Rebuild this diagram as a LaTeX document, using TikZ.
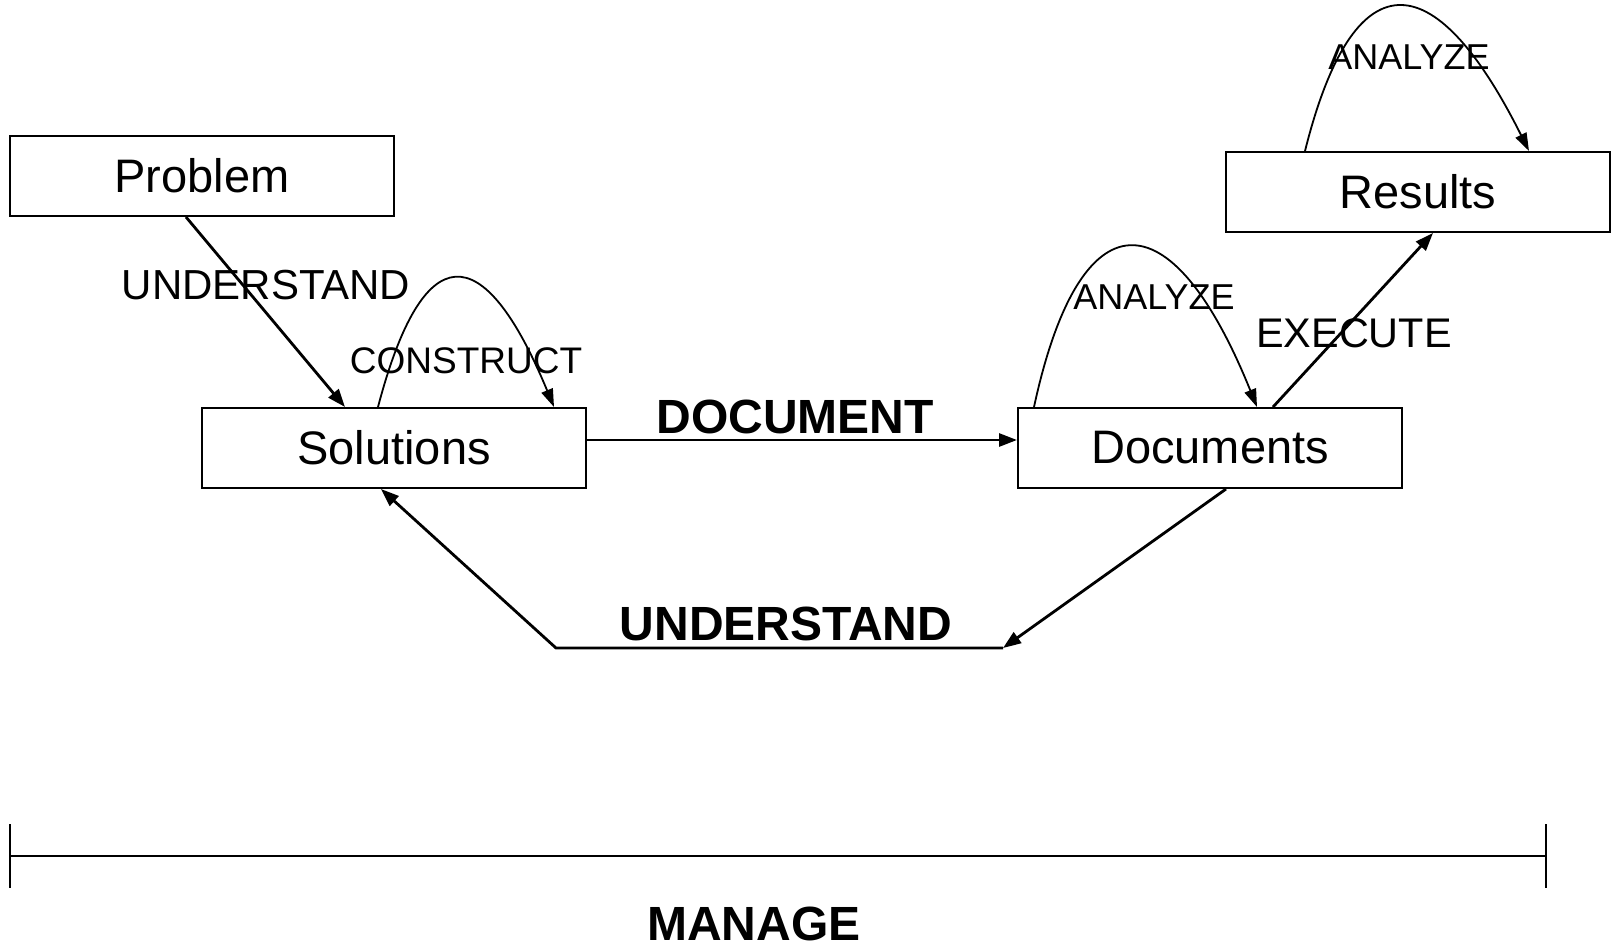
\documentclass[tikz,border=0pt]{standalone}
\usepackage{fontspec}
\setmainfont{Liberation Sans}
\usetikzlibrary{arrows.meta,positioning,calc}

\begin{document}
\begin{tikzpicture}[x=0.5pt,y=-0.5pt,
    stage/.style={draw,line width=1pt,minimum width=192pt,minimum height=40pt,inner sep=0pt,font=\fontsize{23.5}{28}\selectfont},
    flow/.style={line width=1.4pt,-{Triangle[length=9pt,width=6.5pt]}},
    selfloop/.style={line width=0.9pt,-{Triangle[length=9pt,width=6pt]}},
    word/.style={inner sep=0pt,font=\fontsize{#1}{#1}\selectfont},
    bigword/.style={inner sep=0pt,font=\fontsize{24}{28}\selectfont\bfseries}]
   \useasboundingbox (0,0) rectangle (1613,948);
   % the four stages
   \node[stage] (problem) at (202,176) {Problem};
   \node[stage] (sol) at (394,448) {Solutions};
   \node[stage] (docs) at (1210,448) {Documents};
   \node[stage] (res) at (1418,192) {Results};
   % arrows between stages
   \draw[flow] ($(problem.south)+(-16,0)$) -- ($(sol.north)+(-49,0)$);
   \draw[flow] ($(sol.east)+(0,-8)$) -- ($(docs.west)+(0,-8)$);
   \draw[flow] ($(docs.north)+(63,0)$) -- ($(res.south)+(15,0)$);
   \coordinate (back1) at (1003,648);
   \coordinate (back2) at (556,648);
   \draw[flow] ($(docs.south)+(16,0)$) -- (back1);
   \draw[flow] (back1) -- (back2) -- ($(sol.south)+(-13,0)$);
   % loops
   \draw[selfloop] ($(sol.north west)+(177,0)$) .. controls ($(sol.north west)+(222,-171)$) and ($(sol.north west)+(282,-171)$) .. ($(sol.north west)+(353,0)$);
   \draw[selfloop] ($(docs.north west)+(17,0)$) .. controls ($(docs.north west)+(63,-213)$) and ($(docs.north west)+(154,-213)$) .. ($(docs.north west)+(240,0)$);
   \draw[selfloop] ($(res.north west)+(80,0)$) .. controls ($(res.north west)+(128,-192)$) and ($(res.north west)+(208,-192)$) .. ($(res.north west)+(304,0)$);
   % labels
   \node[word=21] (und1) at (266,285) {UNDERSTAND};
   \node[word=18.5] (cons) at (466,361) {CONSTRUCT};
   \node[word=18] (ana1) at (1154,297) {ANALYZE};
   \node[word=18] (ana2) at (1409,57) {ANALYZE};
   \node[word=20.7] (exec) at (1354,333) {EXECUTE};
   \node[bigword] (docu) at (795,417) {DOCUMENT};
   \node[bigword] (und2) at (786,624) {UNDERSTAND};
   % manage bar
   \coordinate (mgl) at (10,856);
   \coordinate (mgr) at (1546,856);
   \draw[line width=1.2pt] (mgl) -- (mgr);
   \draw[line width=0.6pt] ($(mgl)+(0,-32)$) -- ($(mgl)+(0,32)$);
   \draw[line width=0.6pt] ($(mgr)+(0,-32)$) -- ($(mgr)+(0,32)$);
   \node[bigword] (mng) at (754,924) {MANAGE};
\end{tikzpicture}
\end{document}
